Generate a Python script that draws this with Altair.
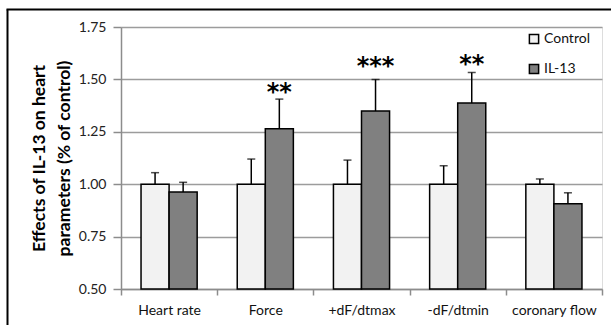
import altair as alt
import pandas as pd

categories = ["Heart rate", "Force", "+dF/dtmax", "-dF/dtmin", "coronary flow"]
groups = ["Control", "IL-13"]
control_vals = [1.00, 1.00, 1.00, 1.00, 1.00]
control_err_top = [1.055, 1.120, 1.115, 1.088, 1.025]
il13_vals = [0.963, 1.265, 1.349, 1.387, 0.907]
il13_err_top = [1.009, 1.406, 1.500, 1.533, 0.959]
stars = ["", "**", "***", "**", ""]
star_y = [None, 1.462, 1.589, 1.597, None]

rows = []
for i, c in enumerate(categories):
    rows.append({"cat": c, "grp": "Control", "val": control_vals[i], "err": control_err_top[i]})
    rows.append({"cat": c, "grp": "IL-13", "val": il13_vals[i], "err": il13_err_top[i]})
df = pd.DataFrame(rows)

star_df = pd.DataFrame([
    {"cat": categories[i], "grp": "IL-13", "txt": stars[i], "y": star_y[i]}
    for i in range(len(categories)) if stars[i]
])

FONT = "Lato"

x_enc = alt.X("cat:N", sort=categories, title=None,
              scale=alt.Scale(paddingInner=0, paddingOuter=0),
              axis=alt.Axis(labelAngle=0, tickBand="extent", labelFont=FONT,
                            labelFontSize=14, labelColor="#111", labelPadding=8,
                            domainColor="#8c8c8c", domainWidth=1.5,
                            tickColor="#8c8c8c", tickWidth=1.5, tickSize=6,
                            grid=False))
xoff = alt.XOffset("grp:N", sort=groups,
                   scale=alt.Scale(paddingInner=0, paddingOuter=0.714))
y_scale = alt.Scale(domain=[0.5, 1.75], zero=False, nice=False)

bars = alt.Chart(df).mark_bar(stroke="black", strokeWidth=1.5).encode(
    x=x_enc,
    xOffset=xoff,
    y=alt.Y("val:Q", scale=y_scale,
            title=["Effects of IL-13 on heart", "parameters (% of control)"],
            axis=alt.Axis(values=[0.5, 0.75, 1.0, 1.25, 1.5, 1.75], format=".2f",
                          labelFont=FONT, labelFontSize=14, labelColor="#222",
                          labelPadding=7, tickSize=8, tickColor="#8c8c8c",
                          tickWidth=1.5, domainColor="#8c8c8c", domainWidth=1.5,
                          gridColor="#9c9c9c", gridWidth=1.5,
                          titleFont=FONT, titleFontSize=17.5, titleFontWeight="bold",
                          titleColor="black", titlePadding=5, titleLineHeight=25)),
    y2=alt.datum(0.5),
    color=alt.Color("grp:N", sort=groups,
                    scale=alt.Scale(domain=groups, range=["#f2f2f2", "#808080"]),
                    legend=alt.Legend(title=None, orient="none", legendX=406, legendY=5,
                                      symbolType="square", symbolSize=85,
                                      symbolStrokeColor="black", symbolStrokeWidth=1.5,
                                      labelFont=FONT, labelFontSize=14, labelColor="#111",
                                      rowPadding=14, labelOffset=3)),
)

err = alt.Chart(df).mark_rule(color="black", strokeWidth=1.5).encode(
    x=alt.X("cat:N", sort=categories),
    xOffset=xoff,
    y=alt.Y("val:Q", scale=y_scale),
    y2="err:Q",
)

caps = alt.Chart(df).mark_tick(color="black", thickness=1.5, size=8, orient="horizontal").encode(
    x=alt.X("cat:N", sort=categories),
    xOffset=xoff,
    y=alt.Y("err:Q", scale=y_scale),
)

star_text = alt.Chart(star_df).mark_text(font="DejaVu Sans", fontSize=24, fontWeight="bold",
                                         color="black", baseline="middle", dy=6).encode(
    x=alt.X("cat:N", sort=categories),
    xOffset=alt.XOffset("grp:N", sort=groups, scale=alt.Scale(domain=groups, paddingInner=0, paddingOuter=0.714)),
    y=alt.Y("y:Q", scale=y_scale),
    text="txt:N",
)

border_left = alt.Chart(pd.DataFrame({"a": [0]})).mark_rule(color="black", strokeWidth=2).encode(
    x=alt.value(-113.5), y=alt.value(-17.5), y2=alt.value(300))
border_top = alt.Chart(pd.DataFrame({"a": [0]})).mark_rule(color="black", strokeWidth=2).encode(
    x=alt.value(-114.5), x2=alt.value(495), y=alt.value(-17.5))

chart = alt.layer(bars, err, caps, star_text, border_left, border_top).properties(
    width=481, height=262,
    autosize=alt.AutoSizeParams(type="none"),
    padding={"left": 121, "top": 27, "right": 9, "bottom": 36},
).configure_view(stroke=None).configure(background="white")

chart.save("out.html", embed_options={"renderer": "svg", "actions": False})
